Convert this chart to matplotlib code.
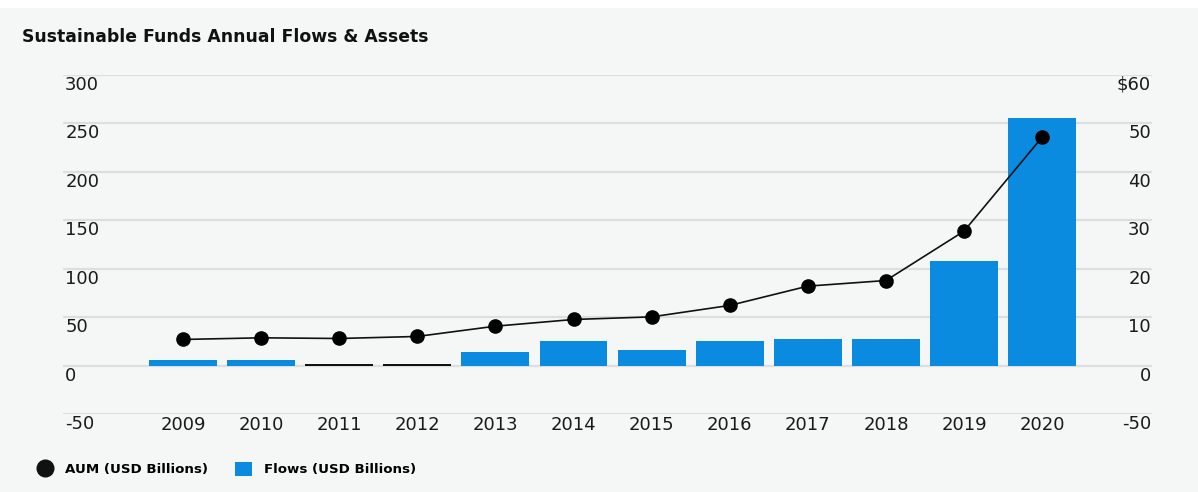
import matplotlib
matplotlib.use("Agg")
import matplotlib.pyplot as plt
from matplotlib.lines import Line2D
from matplotlib.patches import Patch, Rectangle
import matplotlib.transforms as mtransforms

years = ["2009", "2010", "2011", "2012", "2013", "2014", "2015", "2016",
         "2017", "2018", "2019", "2020"]
aum = [27.2, 28.9, 28.2, 30.3, 40.9, 47.8, 50.5, 62.3, 82.2, 88.0, 138.9, 235.8]
flows = [1.3, 1.2, 0.4, 0.4, 2.9, 5.1, 3.2, 5.1, 5.5, 5.5, 21.6, 51.1]
left_ticks = [-50, 0, 50, 100, 150, 200, 250, 300]
left_labels = ["-50", "0", "50", "100", "150", "200", "250", "300"]
right_ticks = [-10, 0, 10, 20, 30, 40, 50, 60]
right_labels = ["-50", "0", "10", "20", "30", "40", "50", "$60"]

BLUE = "#0b8be0"
BG = "#f5f7f7"
GRID = "#dcdfe1"
TXT = "#1a1a1a"
plt.rcParams["font.family"] = ["DejaVu Sans"]

fig = plt.figure(figsize=(11.98, 4.92), dpi=100, facecolor="white")
fig.patches.append(Rectangle((0, 0), 1, 1 - 8 / 492, transform=fig.transFigure,
                             facecolor=BG, edgecolor="none", zorder=-10))

ax = fig.add_axes([63 / 1198, (492 - 414.3) / 492, 1089 / 1198, 339.3 / 492])
ax.set_facecolor("none")
ax2 = ax.twinx()
ax2.set_facecolor("none")

x = list(range(len(years)))
bar_colors = [BLUE if v > 0.6 else "#111111" for v in flows]
ax2.bar(x, flows, width=0.87, color=bar_colors, zorder=2)
ax.plot(x, aum, color="#111111", lw=1.2, marker="o", ms=9.5,
        markerfacecolor="#000000", markeredgecolor="#000000", zorder=5)
ax.set_zorder(ax2.get_zorder() + 1)

xl = ((63 - 183) / 78.1, (1152 - 183) / 78.1)
ax.set_xlim(*xl)
ax.set_ylim(-50, 300)
ax2.set_ylim(-10, 60)

for a in (ax, ax2):
    for s in a.spines.values():
        s.set_visible(False)
    a.set_yticks([])
    a.tick_params(axis="x", length=0)

for t in right_ticks:
    ax2.axhline(t, color=GRID, lw=1.6, zorder=0)

ax.set_xticks(x)
ax.set_xticklabels(years, fontsize=13, color=TXT)
ax.tick_params(axis="x", pad=1)

off = mtransforms.ScaledTranslation(0, -10 / 100, fig.dpi_scale_trans)
tl = mtransforms.blended_transform_factory(ax.transAxes, ax.transData) + off
tr = mtransforms.blended_transform_factory(ax2.transAxes, ax2.transData) + off
for t, lab in zip(left_ticks, left_labels):
    ax.text(0.002, t, lab, transform=tl, ha="left", va="center",
            fontsize=13, color=TXT)
for t, lab in zip(right_ticks, right_labels):
    ax2.text(0.999, t, lab, transform=tr, ha="right", va="center",
             fontsize=13, color=TXT)

fig.text(22 / 1198, 1 - 37 / 492, "Sustainable Funds Annual Flows & Assets",
         fontsize=12.4, fontweight="bold", color="#111111", ha="left", va="center")

handles = [Line2D([], [], marker="o", ls="none", color="#111111", ms=12),
           Patch(facecolor=BLUE, edgecolor="none")]
fig.legend(handles, ["AUM (USD Billions)", "Flows (USD Billions)"],
           loc="center left", bbox_to_anchor=(24 / 1198, 1 - 469 / 492),
           ncol=2, frameon=False, prop={"weight": "bold", "size": 9.6},
           handlelength=1.3, handleheight=1.3, columnspacing=2.0,
           handletextpad=0.9)

fig.savefig("out.png", dpi=100, facecolor="white")
